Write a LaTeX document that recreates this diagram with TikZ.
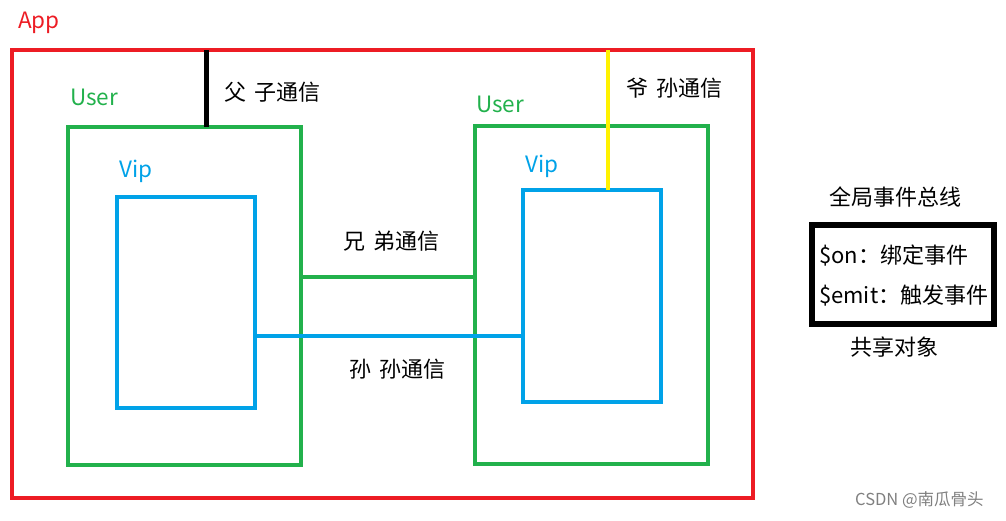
\documentclass[tikz,border=0pt]{standalone}
\usepackage{fontspec}
\setmainfont{Noto Sans CJK SC}
\begin{document}
\begin{tikzpicture}[x=1pt,y=-1pt,
  box/.style={draw,anchor=north west,inner sep=0pt,outer sep=0pt},
  lbl/.style={anchor=west,inner sep=0pt,font=\fontsize{22.5}{26}\selectfont},
  cjk/.style={anchor=west,inner sep=0pt,font=\fontsize{22}{26}\selectfont}]
\definecolor{appred}{RGB}{237,28,36}
\definecolor{usergreen}{RGB}{34,177,76}
\definecolor{vipblue}{RGB}{0,162,232}
\definecolor{yel}{RGB}{255,242,0}
\useasboundingbox (0,0) rectangle (1006,520);
% boxes
\node[box,appred,line width=4pt,minimum width=741pt,minimum height=448pt] (app) at (12,50) {};
\node[box,usergreen,line width=4pt,minimum width=233pt,minimum height=338pt] (luser) at (68,127) {};
\node[box,vipblue,line width=4pt,minimum width=138pt,minimum height=211pt] (lvip) at (117,197) {};
\node[box,usergreen,line width=4pt,minimum width=233pt,minimum height=338pt] (ruser) at (475,126) {};
\node[box,vipblue,line width=4pt,minimum width=138pt,minimum height=212pt] (rvip) at (523,190) {};
\node[box,black,line width=6pt,minimum width=182pt,minimum height=99pt] (bus) at (812,225) {};
% connectors
\draw[line width=5pt] (app.north -| 206,0) -- (luser.north -| 206,0);
\draw[yel,line width=4pt] (app.north -| 608,0) -- (rvip.north -| 608,0);
\draw[usergreen,line width=4pt] (luser.east |- 0,277) -- (ruser.west |- 0,277);
\draw[vipblue,line width=4pt] (lvip.east |- 0,336) -- (rvip.west |- 0,336);
% labels
\node[lbl,appred] (tapp) at (18,23) {App};
\node[lbl,usergreen] (tu1) at (70,97) {User};
\node[lbl,usergreen] (tu2) at (476,104) {User};
\node[lbl,vipblue] (tv1) at (119,171) {Vip};
\node[lbl,vipblue] (tv2) at (525,166) {Vip};
\node[cjk] (t1) at (224,92) {父\hspace{8pt}子通信};
\node[cjk] (t2) at (626,88) {爷\hspace{8pt}孙通信};
\node[cjk] (t3) at (343,241) {兄\hspace{8pt}弟通信};
\node[cjk] (t4) at (349,369) {孙\hspace{8pt}孙通信};
\node[cjk] (t5) at (829,197) {全局事件总线};
\node[cjk] (t6) at (819,256) {\$on：绑定事件};
\node[cjk] (t7) at (819,296) {\$emit：触发事件};
\node[cjk] (t8) at (850,347) {共享对象};
\node[anchor=west,inner sep=0pt,font=\fontsize{16.5}{19}\selectfont,gray] (wm) at (855,500) {CSDN @南瓜骨头};
\end{tikzpicture}
\end{document}
